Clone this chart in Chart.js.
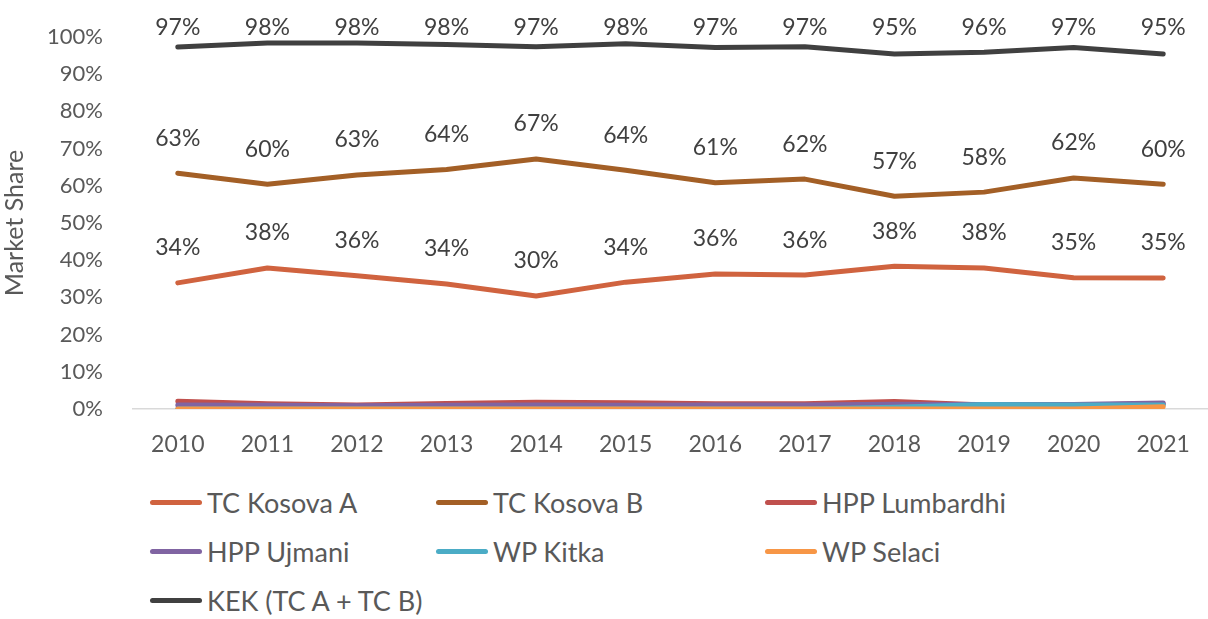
<!DOCTYPE html>
<html>
<head>
<meta charset="utf-8">
<script src="https://cdn.jsdelivr.net/npm/chart.js@4/dist/chart.umd.min.js"></script>
<style>
  body { margin: 0; background: #fff; font-family: Lato, sans-serif; }
  #wrap { position: relative; width: 1208px; height: 619px; }
  #box { position: absolute; left: 0; top: 0; width: 1208px; height: 470px; }
  #legend { position: absolute; left: 150px; top: 478px; }
  .lg-row { display: flex; height: 49px; align-items: center; }
  .lg-item { display: flex; align-items: center; color: #595959; font-size: 27px; }
  .lg-item span.sw { display: inline-block; width: 52px; height: 5px; border-radius: 3px; margin-right: 5px; }
</style>
</head>
<body>
<div id="wrap">
  <div id="box"><canvas id="myChart"></canvas></div>
  <div id="legend"></div>
</div>
<script>
var years = ["2010", "2011", "2012", "2013", "2014", "2015", "2016", "2017", "2018", "2019", "2020", "2021"];
var yTicks = [0, 10, 20, 30, 40, 50, 60, 70, 80, 90, 100];

var tcKosovaA  = [33.9, 37.9, 35.8, 33.6, 30.4, 34.1, 36.3, 36.0, 38.4, 37.9, 35.3, 35.2];
var tcKosovaB  = [63.4, 60.4, 62.9, 64.4, 67.2, 64.2, 60.8, 61.8, 57.2, 58.3, 62.1, 60.4];
var hppLumb    = [2.1, 1.4, 1.1, 1.5, 1.8, 1.7, 1.4, 1.4, 2.0, 1.1, 1.1, 1.4];
var hppUjmani  = [1.1, 1.0, 0.9, 1.0, 1.1, 1.0, 1.1, 1.1, 1.3, 1.2, 1.2, 1.6];
var wpKitka    = [0, 0, 0, 0, 0, 0, 0, 0, 0.5, 1.2, 1.1, 1.1];
var wpSelaci   = [0, 0, 0, 0, 0, 0, 0, 0, 0, 0, 0, 0.6];
var kek        = [97.3, 98.4, 98.4, 98.0, 97.4, 98.2, 97.2, 97.4, 95.4, 95.9, 97.2, 95.4];

var seriesNames = ["TC Kosova A", "TC Kosova B", "HPP Lumbardhi", "HPP Ujmani", "WP Kitka", "WP Selaci", "KEK (TC A + TC B)"];
var seriesData = [tcKosovaA, tcKosovaB, hppLumb, hppUjmani, wpKitka, wpSelaci, kek];
var seriesColors = ["#D0633F", "#A35F26", "#C0504D", "#8064A2", "#4BACC6", "#F79646", "#404040"];
var withLabels = [true, true, false, false, false, false, true];

var datasets = seriesData.map(function(d, i) {
    return {
        label: seriesNames[i],
        data: d,
        borderColor: seriesColors[i],
        backgroundColor: seriesColors[i],
        borderWidth: 5,
        borderCapStyle: 'round',
        borderJoinStyle: 'round',
        pointRadius: 0,
        tension: 0,
        order: seriesData.length - i, // later series on top, like Excel
        showLabels: withLabels[i]
    };
});

// values above the points
var pointLabels = {
    id: 'pointLabels',
    afterDatasetsDraw: function(chart) {
        var ctx = chart.ctx;
        ctx.save();
        ctx.font = '23px Lato';
        ctx.fillStyle = '#404040';
        ctx.textAlign = 'center';
        ctx.textBaseline = 'middle';
        chart.data.datasets.forEach(function(ds, i) {
            if (!ds.showLabels) return;
            chart.getDatasetMeta(i).data.forEach(function(pt, j) {
                var y = Math.max(pt.y - 35, 28);
                ctx.fillText(Math.round(ds.data[j]) + '%', pt.x, y);
            });
        });
        ctx.restore();
    }
};

new Chart("myChart", {
    type: "line",
    data: { labels: years, datasets: datasets },
    plugins: [pointLabels],
    options: {
        responsive: true,
        maintainAspectRatio: false,
        animation: false,
        layout: { padding: { top: 37, right: 0, left: 0, bottom: 0 } },
        plugins: {
            legend: { display: false },
            tooltip: { enabled: false }
        },
        scales: {
            x: {
                offset: true,
                grid: { display: false },
                border: { display: true, color: '#D9D9D9', width: 1.5 },
                ticks: { color: '#595959', font: { family: 'Lato', size: 23 }, padding: 14, maxRotation: 0 },
                afterFit: function(s) { s.height = 470 - 409; }
            },
            y: {
                min: 0,
                max: 100,
                afterBuildTicks: function(s) { s.ticks = yTicks.map(function(v) { return { value: v }; }); },
                grid: { display: false },
                border: { display: false },
                ticks: {
                    color: '#595959',
                    font: { family: 'Lato', size: 22 },
                    padding: 22,
                    callback: function(v) { return v + '%'; }
                },
                title: {
                    display: true,
                    text: 'Market Share',
                    color: '#595959',
                    font: { family: 'Lato', size: 25 },
                    padding: 0
                },
                afterFit: function(s) { s.width = 133; }
            }
        }
    }
});

// legend in three columns
var colWidths = [286, 329, 300];
var legend = document.getElementById('legend');
var row;
seriesNames.forEach(function(name, i) {
    if (i % 3 == 0) {
        row = document.createElement('div');
        row.className = 'lg-row';
        legend.appendChild(row);
    }
    var item = document.createElement('div');
    item.className = 'lg-item';
    item.style.width = colWidths[i % 3] + 'px';
    item.innerHTML = '<span class="sw" style="background:' + seriesColors[i] + '"></span>' + name;
    row.appendChild(item);
});
</script>
</body>
</html>
